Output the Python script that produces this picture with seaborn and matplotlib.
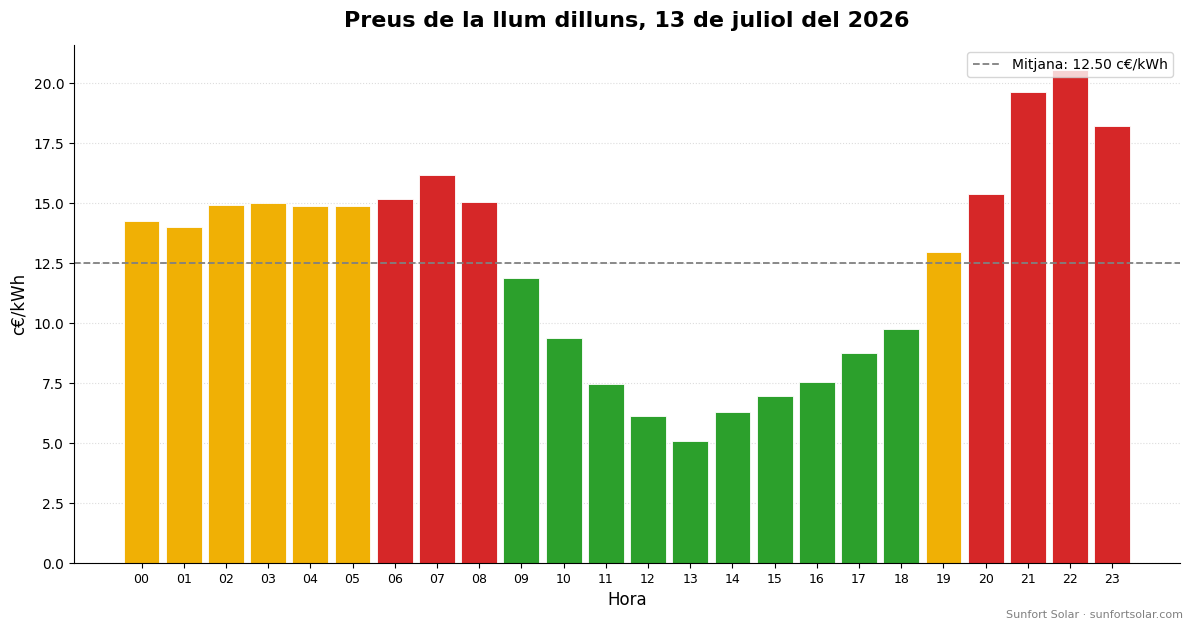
import pandas as pd
import matplotlib
matplotlib.use("Agg")
import matplotlib.pyplot as plt
import seaborn as sns

# Hourly prices (c€/kWh)
hours = [f"{h:02d}" for h in range(24)]
prices = [14.24, 13.99, 14.90, 14.99, 14.86, 14.86, 15.16, 16.18, 15.03, 11.86,
          9.36, 7.45, 6.11, 5.07, 6.28, 6.95, 7.53, 8.74, 9.74, 12.95,
          15.36, 19.62, 20.55, 18.23]

title = "Preus de la llum dilluns, 13 de juliol del 2026"
footer = "Sunfort Solar · sunfortsolar.com"

palette = {"car": "#d62728", "mig": "#f0b005", "barat": "#2ca02c"}


def classify(p, mean):
    if p >= 15:
        return "car"
    if p < mean:
        return "barat"
    return "mig"


def main():
    df = pd.DataFrame({"hora": hours, "preu": prices})
    mean = df["preu"].mean()
    df["nivell"] = [classify(p, mean) for p in df["preu"]]

    fig, ax = plt.subplots(figsize=(11.93, 6.28), dpi=100)
    fig.subplots_adjust(left=0.062, right=0.989, bottom=0.1035, top=0.928)

    sns.barplot(data=df, x="hora", y="preu", hue="nivell", order=hours,
                palette=palette, dodge=False, legend=False, saturation=1,
                edgecolor="white", linewidth=0.6, width=0.85, ax=ax)

    ax.axhline(mean, color="gray", linestyle="--", linewidth=1.3,
               label=f"Mitjana: {mean:.2f} c€/kWh")
    ax.legend(loc="upper right", fontsize=10)

    ax.set_title(title, fontsize=16, fontweight="bold", pad=13)
    ax.set_xlabel("Hora", fontsize=12)
    ax.set_ylabel("c€/kWh", fontsize=12)
    ax.set_xlim(-1.6, 24.6)
    ax.tick_params(axis="x", labelsize=9)
    ax.tick_params(axis="y", labelsize=10)
    ax.yaxis.grid(True, linestyle=":", color="#dddddd", linewidth=0.8)
    ax.set_axisbelow(True)
    sns.despine(ax=ax)

    fig.text(0.992, 0.012, footer, ha="right", va="bottom", fontsize=8, color="gray")
    fig.savefig("out.png", dpi=100)


if __name__ == '__main__':
    main()
